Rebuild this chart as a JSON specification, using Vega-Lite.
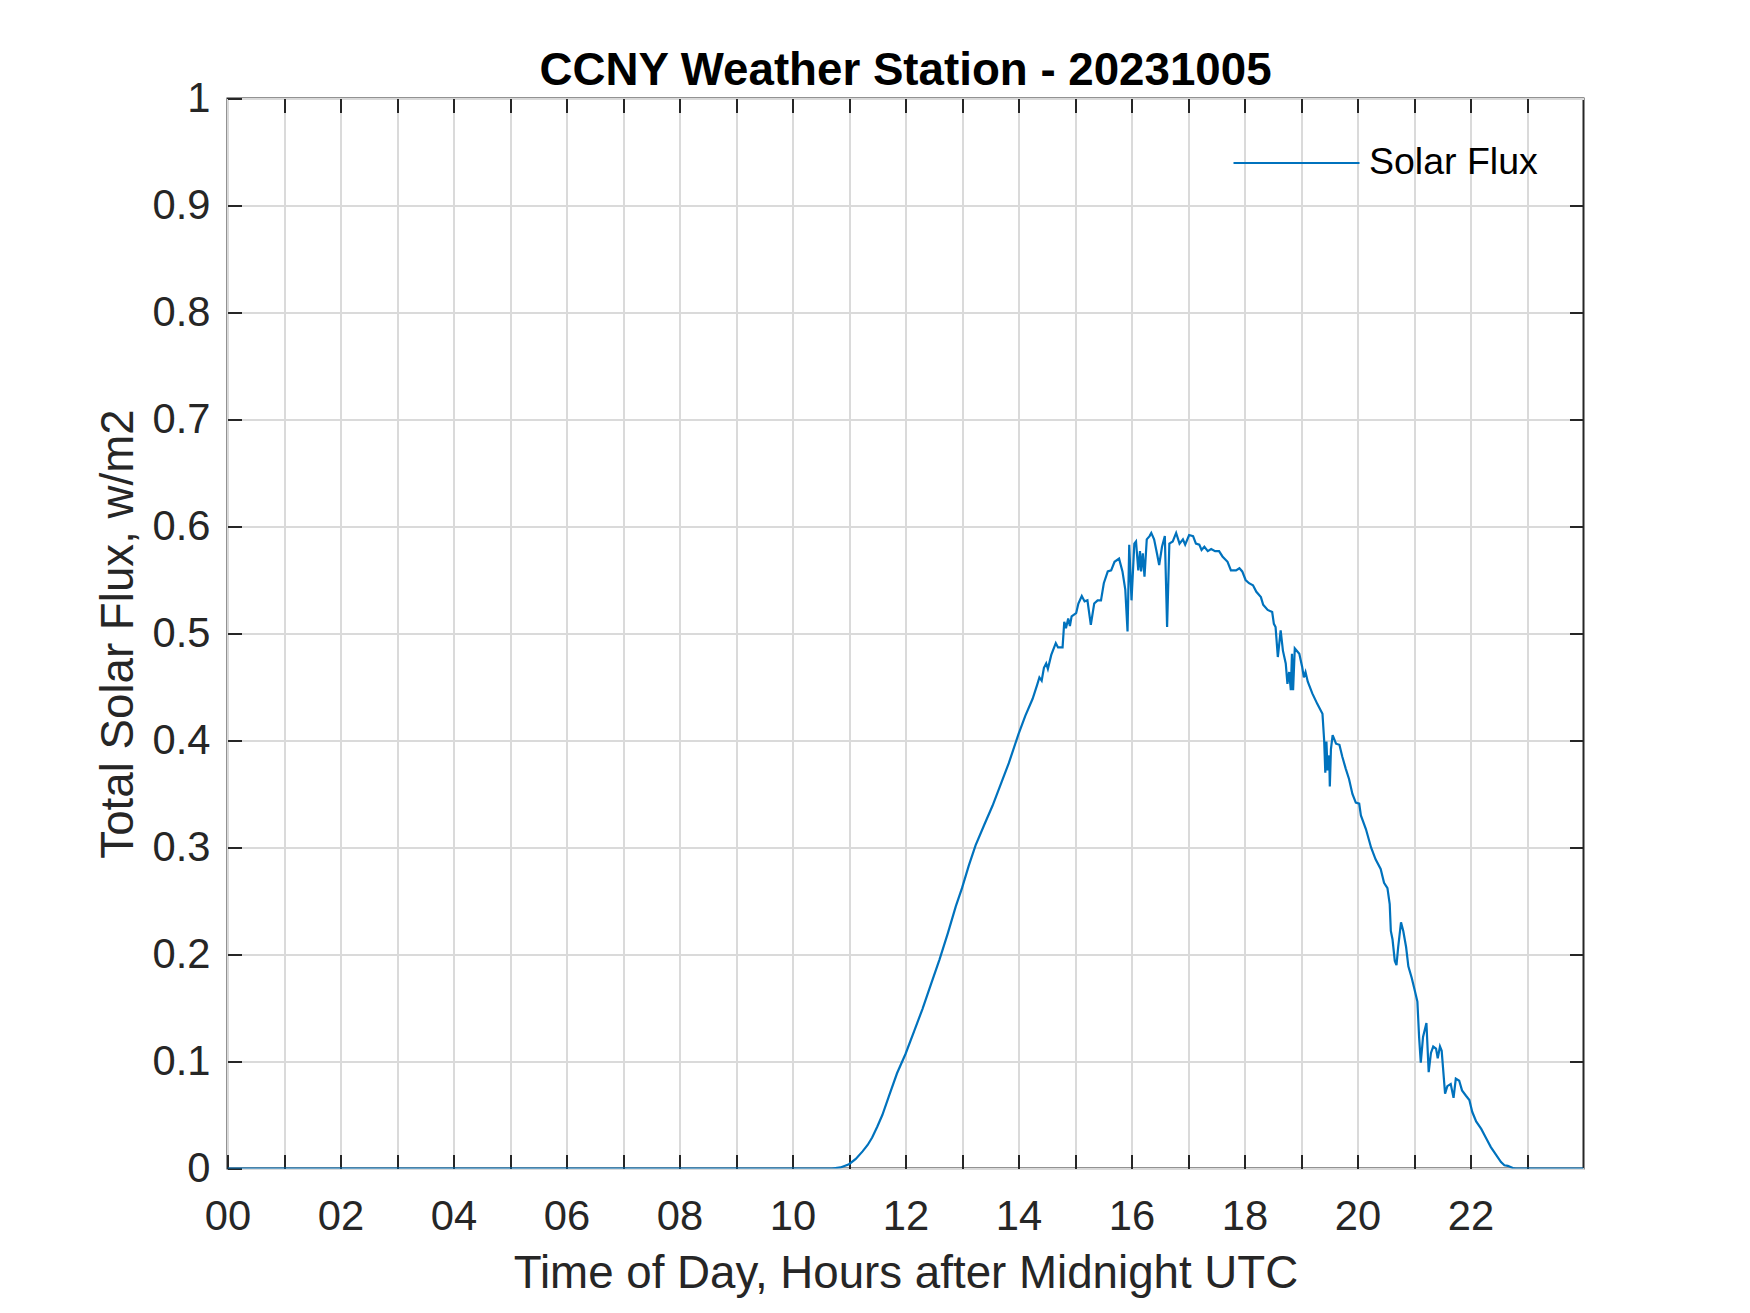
{
  "$schema": "https://vega.github.io/schema/vega-lite/v6.json",
  "width": 1356,
  "height": 1070,
  "autosize": {"type": "none"},
  "padding": {"left": 227.5, "top": 98.5, "right": 166.5, "bottom": 144.5},
  "background": "white",
  "config": {
    "font": "Liberation Sans",
    "view": {"stroke": "#262626", "strokeWidth": 2}
  },
  "title": {
    "text": "CCNY Weather Station - 20231005",
    "font": "Liberation Sans",
    "fontSize": 45.7,
    "fontWeight": "bold",
    "color": "#000000",
    "anchor": "middle",
    "frame": "group",
    "baseline": "alphabetic",
    "offset": -52
  },
  "data": {
    "values": [
      {"h": 0, "flux": 0},
      {"h": 10.7, "flux": 0},
      {"h": 10.85, "flux": 0.001},
      {"h": 11.0, "flux": 0.004},
      {"h": 11.12, "flux": 0.009},
      {"h": 11.24, "flux": 0.016},
      {"h": 11.33, "flux": 0.022},
      {"h": 11.41, "flux": 0.029},
      {"h": 11.5, "flux": 0.039},
      {"h": 11.59, "flux": 0.05},
      {"h": 11.71, "flux": 0.068},
      {"h": 11.85, "flux": 0.089},
      {"h": 12.0, "flux": 0.107},
      {"h": 12.15, "flux": 0.128},
      {"h": 12.3, "flux": 0.149},
      {"h": 12.45, "flux": 0.172},
      {"h": 12.6, "flux": 0.195},
      {"h": 12.75, "flux": 0.22},
      {"h": 12.89, "flux": 0.245},
      {"h": 13.0, "flux": 0.262},
      {"h": 13.12, "flux": 0.283},
      {"h": 13.24, "flux": 0.302},
      {"h": 13.4, "flux": 0.322},
      {"h": 13.54, "flux": 0.339},
      {"h": 13.7, "flux": 0.361},
      {"h": 13.83, "flux": 0.379},
      {"h": 14.0, "flux": 0.406},
      {"h": 14.12, "flux": 0.423},
      {"h": 14.25, "flux": 0.439},
      {"h": 14.33, "flux": 0.452},
      {"h": 14.37, "flux": 0.459},
      {"h": 14.41, "flux": 0.456},
      {"h": 14.45, "flux": 0.468},
      {"h": 14.49, "flux": 0.472},
      {"h": 14.52, "flux": 0.467},
      {"h": 14.58, "flux": 0.48},
      {"h": 14.66, "flux": 0.491},
      {"h": 14.7, "flux": 0.487},
      {"h": 14.78, "flux": 0.487},
      {"h": 14.81, "flux": 0.511},
      {"h": 14.84, "flux": 0.505},
      {"h": 14.88, "flux": 0.514},
      {"h": 14.91, "flux": 0.507},
      {"h": 14.94, "flux": 0.516},
      {"h": 15.02, "flux": 0.519},
      {"h": 15.06, "flux": 0.528},
      {"h": 15.12, "flux": 0.535},
      {"h": 15.17, "flux": 0.53},
      {"h": 15.22, "flux": 0.531},
      {"h": 15.28, "flux": 0.508},
      {"h": 15.34, "flux": 0.528},
      {"h": 15.4, "flux": 0.531},
      {"h": 15.46, "flux": 0.531},
      {"h": 15.51, "flux": 0.547},
      {"h": 15.58, "flux": 0.558},
      {"h": 15.64, "flux": 0.559},
      {"h": 15.7, "flux": 0.567},
      {"h": 15.78, "flux": 0.57},
      {"h": 15.84, "flux": 0.558},
      {"h": 15.89, "flux": 0.541},
      {"h": 15.93, "flux": 0.502},
      {"h": 15.96, "flux": 0.583},
      {"h": 16.0, "flux": 0.531},
      {"h": 16.05, "flux": 0.584},
      {"h": 16.08, "flux": 0.586},
      {"h": 16.12, "flux": 0.559},
      {"h": 16.15, "flux": 0.577},
      {"h": 16.17, "flux": 0.558},
      {"h": 16.2, "flux": 0.575},
      {"h": 16.23, "flux": 0.553},
      {"h": 16.27, "flux": 0.588},
      {"h": 16.32, "flux": 0.591},
      {"h": 16.35, "flux": 0.594},
      {"h": 16.4, "flux": 0.588},
      {"h": 16.45, "flux": 0.575},
      {"h": 16.49, "flux": 0.564},
      {"h": 16.54, "flux": 0.581},
      {"h": 16.59, "flux": 0.591},
      {"h": 16.63, "flux": 0.506},
      {"h": 16.67, "flux": 0.584},
      {"h": 16.73, "flux": 0.586},
      {"h": 16.79, "flux": 0.594},
      {"h": 16.85, "flux": 0.584},
      {"h": 16.91, "flux": 0.588},
      {"h": 16.95, "flux": 0.583},
      {"h": 17.02, "flux": 0.592},
      {"h": 17.09, "flux": 0.591},
      {"h": 17.14, "flux": 0.584},
      {"h": 17.2, "flux": 0.583},
      {"h": 17.24, "flux": 0.578},
      {"h": 17.29, "flux": 0.581},
      {"h": 17.35, "flux": 0.577},
      {"h": 17.41, "flux": 0.579},
      {"h": 17.48, "flux": 0.577},
      {"h": 17.55, "flux": 0.577},
      {"h": 17.61, "flux": 0.572},
      {"h": 17.7, "flux": 0.567},
      {"h": 17.76, "flux": 0.559},
      {"h": 17.85, "flux": 0.559},
      {"h": 17.91, "flux": 0.561},
      {"h": 17.96, "flux": 0.558},
      {"h": 18.02, "flux": 0.55},
      {"h": 18.08, "flux": 0.547},
      {"h": 18.15, "flux": 0.545},
      {"h": 18.21, "flux": 0.539},
      {"h": 18.29, "flux": 0.534},
      {"h": 18.33, "flux": 0.527},
      {"h": 18.41, "flux": 0.522},
      {"h": 18.49, "flux": 0.52},
      {"h": 18.52, "flux": 0.509},
      {"h": 18.55, "flux": 0.506},
      {"h": 18.59, "flux": 0.478},
      {"h": 18.64, "flux": 0.503},
      {"h": 18.68, "flux": 0.484},
      {"h": 18.73, "flux": 0.472},
      {"h": 18.76, "flux": 0.453},
      {"h": 18.79, "flux": 0.464},
      {"h": 18.82, "flux": 0.447},
      {"h": 18.84, "flux": 0.481},
      {"h": 18.86, "flux": 0.447},
      {"h": 18.89, "flux": 0.486},
      {"h": 18.97, "flux": 0.481},
      {"h": 19.02, "flux": 0.469},
      {"h": 19.05, "flux": 0.459},
      {"h": 19.08, "flux": 0.464},
      {"h": 19.12, "flux": 0.455},
      {"h": 19.2, "flux": 0.444},
      {"h": 19.29, "flux": 0.434},
      {"h": 19.38, "flux": 0.425},
      {"h": 19.41, "flux": 0.4},
      {"h": 19.43, "flux": 0.37},
      {"h": 19.45, "flux": 0.399},
      {"h": 19.47, "flux": 0.372},
      {"h": 19.5, "flux": 0.386},
      {"h": 19.51, "flux": 0.357},
      {"h": 19.53, "flux": 0.392},
      {"h": 19.56, "flux": 0.405},
      {"h": 19.62, "flux": 0.397},
      {"h": 19.68, "flux": 0.396},
      {"h": 19.73, "flux": 0.385},
      {"h": 19.79, "flux": 0.374},
      {"h": 19.85, "flux": 0.364},
      {"h": 19.91, "flux": 0.35},
      {"h": 19.97, "flux": 0.342},
      {"h": 20.03, "flux": 0.341},
      {"h": 20.06, "flux": 0.33},
      {"h": 20.15, "flux": 0.317},
      {"h": 20.24, "flux": 0.3},
      {"h": 20.32, "flux": 0.289},
      {"h": 20.41, "flux": 0.28},
      {"h": 20.47, "flux": 0.267},
      {"h": 20.53, "flux": 0.262},
      {"h": 20.57, "flux": 0.247},
      {"h": 20.59, "flux": 0.222},
      {"h": 20.62, "flux": 0.214},
      {"h": 20.66, "flux": 0.194},
      {"h": 20.69, "flux": 0.19},
      {"h": 20.72, "flux": 0.207},
      {"h": 20.77, "flux": 0.23},
      {"h": 20.81, "flux": 0.222},
      {"h": 20.86, "flux": 0.207},
      {"h": 20.9, "flux": 0.189},
      {"h": 20.96, "flux": 0.178},
      {"h": 21.02, "flux": 0.165},
      {"h": 21.06, "flux": 0.156},
      {"h": 21.09, "flux": 0.123},
      {"h": 21.12, "flux": 0.099},
      {"h": 21.16, "flux": 0.123},
      {"h": 21.22, "flux": 0.136},
      {"h": 21.26, "flux": 0.09},
      {"h": 21.3, "flux": 0.108},
      {"h": 21.34, "flux": 0.114},
      {"h": 21.39, "flux": 0.112},
      {"h": 21.42, "flux": 0.103},
      {"h": 21.46, "flux": 0.114},
      {"h": 21.49, "flux": 0.11},
      {"h": 21.55, "flux": 0.07},
      {"h": 21.59, "flux": 0.077},
      {"h": 21.65, "flux": 0.079},
      {"h": 21.7, "flux": 0.066},
      {"h": 21.74, "flux": 0.084},
      {"h": 21.8, "flux": 0.082},
      {"h": 21.85, "flux": 0.073},
      {"h": 21.92, "flux": 0.068},
      {"h": 21.98, "flux": 0.064},
      {"h": 22.03, "flux": 0.053},
      {"h": 22.1, "flux": 0.044},
      {"h": 22.19, "flux": 0.037},
      {"h": 22.27, "flux": 0.029},
      {"h": 22.36, "flux": 0.02},
      {"h": 22.45, "flux": 0.013},
      {"h": 22.54, "flux": 0.006},
      {"h": 22.6, "flux": 0.003},
      {"h": 22.66, "flux": 0.0025},
      {"h": 22.75, "flux": 0.0004},
      {"h": 22.8, "flux": 0},
      {"h": 24, "flux": 0}
    ]
  },
  "layer": [
    {
      "mark": {"type": "line", "strokeOpacity": 0},
      "encoding": {
        "x": {
          "field": "h",
          "type": "quantitative",
          "scale": {"domain": [0, 24], "nice": false, "zero": false},
          "axis": {
            "orient": "top",
            "values": [1, 2, 3, 4, 5, 6, 7, 8, 9, 10, 11, 12, 13, 14, 15, 16, 17, 18, 19, 20, 21, 22, 23],
            "labels": false,
            "title": null,
            "domain": false,
            "grid": false,
            "ticks": true,
            "tickSize": -14,
            "tickWidth": 2,
            "tickColor": "#262626"
          }
        },
        "y": {
          "field": "flux",
          "type": "quantitative",
          "scale": {"domain": [0, 1], "nice": false},
          "axis": {
            "orient": "right",
            "values": [0.1, 0.2, 0.3, 0.4, 0.5, 0.6, 0.7, 0.8, 0.9],
            "labels": false,
            "title": null,
            "domain": false,
            "grid": false,
            "ticks": true,
            "tickSize": -14,
            "tickWidth": 2,
            "tickColor": "#262626"
          }
        }
      }
    },
    {
      "mark": {"type": "line", "strokeWidth": 2.2, "clip": true},
      "encoding": {
        "x": {
          "field": "h",
          "type": "quantitative",
          "axis": {
            "orient": "bottom",
            "values": [0, 1, 2, 3, 4, 5, 6, 7, 8, 9, 10, 11, 12, 13, 14, 15, 16, 17, 18, 19, 20, 21, 22, 23],
            "labelExpr": "datum.value % 2 === 0 ? format(datum.value, '02d') : ''",
            "labelFont": "Liberation Sans",
            "labelFontSize": 41.7,
            "labelColor": "#262626",
            "labelPadding": 42,
            "labelFlush": false,
            "labelOverlap": false,
            "domain": false,
            "grid": true,
            "gridColor": "#dadada",
            "gridWidth": 2,
            "ticks": true,
            "tickSize": -14,
            "tickWidth": 2,
            "tickColor": "#262626",
            "title": "Time of Day, Hours after Midnight UTC",
            "titleFont": "Liberation Sans",
            "titleFontSize": 45.7,
            "titleFontWeight": "normal",
            "titleColor": "#262626",
            "titlePadding": 13
          }
        },
        "y": {
          "field": "flux",
          "type": "quantitative",
          "axis": {
            "orient": "left",
            "values": [0, 0.1, 0.2, 0.3, 0.4, 0.5, 0.6, 0.7, 0.8, 0.9, 1],
            "labelExpr": "datum.value === 0 || datum.value === 1 ? format(datum.value, 'd') : format(datum.value, '.1f')",
            "labelFont": "Liberation Sans",
            "labelFontSize": 41.7,
            "labelColor": "#262626",
            "labelPadding": 31.5,
            "labelFlush": false,
            "labelOverlap": false,
            "domain": false,
            "grid": true,
            "gridColor": "#dadada",
            "gridWidth": 2,
            "ticks": true,
            "tickSize": -14,
            "tickWidth": 2,
            "tickColor": "#262626",
            "title": "Total Solar Flux, w/m2",
            "titleFont": "Liberation Sans",
            "titleFontSize": 45.7,
            "titleFontWeight": "normal",
            "titleColor": "#262626",
            "titleBaseline": "alphabetic",
            "titlePadding": 20
          }
        },
        "color": {
          "datum": "Solar Flux",
          "type": "nominal",
          "scale": {"domain": ["Solar Flux"], "range": ["#0072BD"]},
          "legend": {
            "title": null,
            "orient": "none",
            "legendX": 1004.5,
            "legendY": 0,
            "padding": 0,
            "symbolType": "stroke",
            "symbolSize": 15876,
            "symbolStrokeWidth": 2.2,
            "labelOffset": 8,
            "labelLimit": 500,
            "labelFont": "Liberation Sans",
            "labelFontSize": 37.5,
            "labelColor": "#000000"
          }
        }
      }
    }
  ],
  "resolve": {"axis": {"x": "independent", "y": "independent"}}
}
